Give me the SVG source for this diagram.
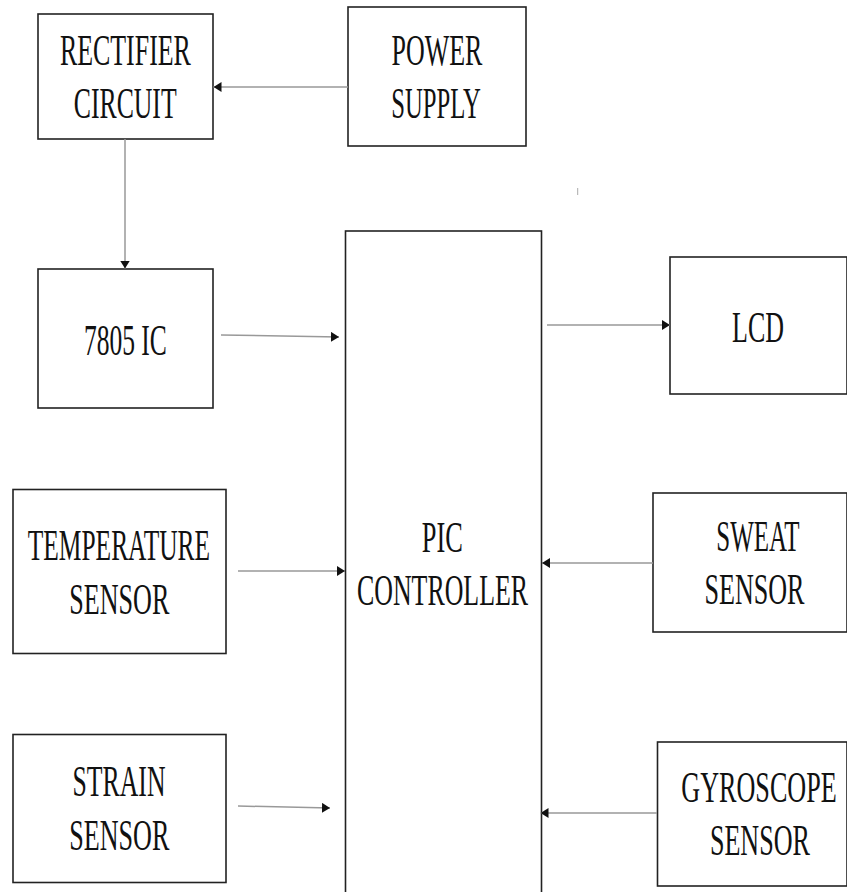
<svg xmlns="http://www.w3.org/2000/svg" width="847" height="892" viewBox="0 0 847 892">
<style>
.box{fill:#fff;stroke:#222;stroke-width:1.6}
.t{font-family:'Liberation Serif','Times New Roman',serif;font-size:44px;fill:#111;text-anchor:middle}
.c{stroke:#999;stroke-width:1.5;fill:none;marker-end:url(#ah)}
</style>
<defs>
<marker id="ah" viewBox="0 0 8 10" refX="8" refY="5" markerWidth="8" markerHeight="10" markerUnits="userSpaceOnUse" orient="auto">
<path d="M0,0 L8,5 L0,10 z" fill="#111"/>
</marker>
</defs>
<rect width="847" height="892" fill="#fff"/>
<g id="rectifier"><rect class="box" x="38" y="14" width="175" height="125"/>
<text class="t" transform="translate(125.4,65) scale(0.589,1)">RECTIFIER</text>
<text class="t" transform="translate(125.2,118) scale(0.585,1)">CIRCUIT</text></g>
<g id="power"><rect class="box" x="348" y="7" width="178" height="139"/>
<text class="t" transform="translate(437,65) scale(0.59,1)">POWER</text>
<text class="t" transform="translate(436,118) scale(0.562,1)">SUPPLY</text></g>
<g id="ic7805"><rect class="box" x="38" y="269" width="175" height="139"/>
<text class="t" transform="translate(125.4,355) scale(0.58,1)">7805 IC</text></g>
<g id="pic"><rect class="box" x="345.5" y="231" width="196" height="680"/>
<text class="t" transform="translate(442.3,551.7) scale(0.6,1)">PIC</text>
<text class="t" transform="translate(442.5,605) scale(0.588,1)">CONTROLLER</text></g>
<g id="lcd"><rect class="box" x="670" y="257" width="177" height="137"/>
<text class="t" transform="translate(758,342) scale(0.59,1)">LCD</text></g>
<g id="temperature"><rect class="box" x="13" y="489.5" width="213" height="164"/>
<text class="t" transform="translate(118.9,560) scale(0.578,1)">TEMPERATURE</text>
<text class="t" transform="translate(119.3,614) scale(0.593,1)">SENSOR</text></g>
<g id="sweat"><rect class="box" x="653" y="493" width="194" height="139"/>
<text class="t" transform="translate(758,550.7) scale(0.568,1)">SWEAT</text>
<text class="t" transform="translate(754.5,604) scale(0.593,1)">SENSOR</text></g>
<g id="strain"><rect class="box" x="13" y="734.5" width="213" height="148"/>
<text class="t" transform="translate(119,796) scale(0.585,1)">STRAIN</text>
<text class="t" transform="translate(119.3,850) scale(0.593,1)">SENSOR</text></g>
<g id="gyroscope"><rect class="box" x="657.5" y="742" width="189.5" height="144"/>
<text class="t" transform="translate(759,801.7) scale(0.594,1)">GYROSCOPE</text>
<text class="t" transform="translate(759.9,855) scale(0.593,1)">SENSOR</text></g>
<g id="connectors">
<line class="c" x1="348" y1="87" x2="213.5" y2="87"/>
<line class="c" x1="125" y1="139" x2="125" y2="268.5"/>
<line class="c" x1="221" y1="335" x2="339" y2="337"/>
<line class="c" x1="547" y1="325" x2="670" y2="325"/>
<line class="c" x1="238" y1="571" x2="345" y2="571"/>
<line class="c" x1="653" y1="563" x2="542" y2="563"/>
<line class="c" x1="238" y1="806" x2="330" y2="808"/>
<line class="c" x1="657" y1="813" x2="540.5" y2="813"/>
</g>
<line x1="577.7" y1="188" x2="577.7" y2="195" stroke="#aaa" stroke-width="1"/>
</svg>
